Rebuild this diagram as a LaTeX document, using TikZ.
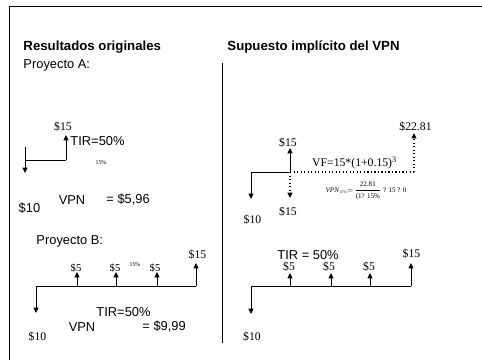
\documentclass[tikz,border=0pt]{standalone}
\usepackage{amsmath}
\usepackage{fontspec}
\setmainfont{Liberation Serif}
\setsansfont{Liberation Sans}
\usetikzlibrary{arrows.meta}

\begin{document}
\begin{tikzpicture}[
			x=0.03cm, y=-0.03cm,
			>={Triangle[width=4.2pt,length=4.6pt]},
			line width=0.8pt,
			txt/.style={font=\sffamily\fontsize{11}{13}\selectfont, inner sep=0pt},
			title/.style={font=\sffamily\bfseries\fontsize{11.3}{13}\selectfont, inner sep=0pt, anchor=base west},
			amt/.style={font=\fontsize{10}{12}\selectfont, inner sep=0pt},
			small amt/.style={font=\fontsize{9}{10}\selectfont, inner sep=0pt},
			rate/.style={font=\fontsize{5}{6}\selectfont, inner sep=0pt},
			dots/.style={dotted, line width=1pt}
			]
			\useasboundingbox (0,0) rectangle (482,360);
			\draw (482,6) -- (9,6) -- (9,360);
			
			% headings
			\node[title] (ttlorig) at (23,50.5) {Resultados originales};
			\node[title] (ttlimpl) at (227,50.5) {Supuesto implícito del VPN};
			\node[txt, anchor=base west] (proja) at (23,68) {Proyecto A:};
			\coordinate (divtop) at (222,63);
			\coordinate (divbot) at (222,343);
			\draw (divtop) -- (divbot);
			
			% project A, original
			\node[amt] (a15) at (63,127) {\$15};
			\node[txt, anchor=west] (atir) at (70,141) {TIR=50\%};
			\node[rate] (arate) at (101,163) {15\%};
			\node[txt] (avpn) at (72,200) {VPN};
			\node[txt, anchor=west] (aval) at (106,200) {= \$5,96};
			\node[txt] (a10) at (29.5,208) {\$10};
			\coordinate (a0top) at (25,147);
			\coordinate (a0) at (25,160);
			\coordinate (a1) at (66,160);
			\coordinate (a0tip) at (25,173);
			\coordinate (a1tip) at (66,135);
			\draw[->] (a0top) -- (a0tip);
			\draw (a0) -- (a1);
			\draw[->] (a1) -- (a1tip);
			
			% project B, original
			\node[txt, anchor=west] (projb) at (36,241) {Proyecto B:};
			\coordinate (b0) at (36,286);
			\coordinate (b1) at (77,286);
			\coordinate (b2) at (116,286);
			\coordinate (b3) at (157,286);
			\coordinate (b4) at (196,286);
			\coordinate (b0tip) at (36,313);
			\coordinate (b1tip) at (77,272);
			\coordinate (b2tip) at (116,272);
			\coordinate (b3tip) at (157,272);
			\coordinate (b4tip) at (196,263);
			\draw (b0) -- (b4);
			\draw[->] (b0) -- (b0tip);
			\draw[->] (b1) -- (b1tip);
			\draw[->] (b2) -- (b2tip);
			\draw[->] (b3) -- (b3tip);
			\draw[->] (b4) -- (b4tip);
			\node[small amt] (b5a) at (76,268) {\$5};
			\node[small amt] (b5b) at (115,268) {\$5};
			\node[small amt] (b5c) at (155,268) {\$5};
			\node[rate] (brate) at (135,265) {15\%};
			\node[amt] (b15) at (197.5,255) {\$15};
			\node[amt] (b10) at (37.5,337) {\$10};
			\node[txt, anchor=west] (btir) at (96,312) {TIR=50\%};
			\node[txt] (bvpn) at (82,327) {VPN};
			\node[txt, anchor=west] (bval) at (142,327) {= \$9,99};
			
			% project A, reinvested
			\coordinate (c0) at (251,172);
			\coordinate (c1) at (290,172);
			\coordinate (c3) at (414,172);
			\coordinate (c0tip) at (251,199);
			\coordinate (c1up) at (290,148);
			\coordinate (c1dn) at (290,198);
			\coordinate (c3tip) at (414,133);
			\draw (c0) -- (c1);
			\draw[dots] (c1) -- (c3);
			\draw[->] (c0) -- (c0tip);
			\draw[->] (c1) -- (c1up);
			\draw[->, dots] (c1) -- (c1dn);
			\draw[->, dots] (c3) -- (c3tip);
			\node[amt] (c2281) at (415.5,127) {\$22.81};
			\node[amt] (c15up) at (288,143) {\$15};
			\node[amt] (cvf) at (354.5,163) {VF=15*(1+0.15)\textsuperscript{3}};
			\node[font=\fontsize{6}{7}\selectfont, inner sep=0pt] (cform) at (366,191)
				{\textit{VPN}\raisebox{-0.4ex}{\fontsize{3.5}{4}\selectfont 15\%}$=\!\dfrac{\text{22.81}}{\text{(1? 15\%}}$ ? 15 ? 0};
			\node[amt] (c15dn) at (288,212) {\$15};
			\node[amt] (c10) at (252.5,220) {\$10};
			
			% project B, reinvested
			\node[txt, anchor=west] (dtir) at (277,255) {TIR = 50\%};
			\coordinate (d0) at (251,286);
			\coordinate (d1) at (290,286);
			\coordinate (d2) at (331,286);
			\coordinate (d3) at (370,286);
			\coordinate (d4) at (411,286);
			\coordinate (d0tip) at (251,314);
			\coordinate (d1tip) at (290,273);
			\coordinate (d2tip) at (331,273);
			\coordinate (d3tip) at (370,273);
			\coordinate (d4tip) at (411,263);
			\draw (d0) -- (d4);
			\draw[->] (d0) -- (d0tip);
			\draw[->] (d1) -- (d1tip);
			\draw[->] (d2) -- (d2tip);
			\draw[->] (d3) -- (d3tip);
			\draw[->] (d4) -- (d4tip);
			\node[amt] (d5a) at (289,267) {\$5};
			\node[amt] (d5b) at (329,267) {\$5};
			\node[amt] (d5c) at (369,267) {\$5};
			\node[amt] (d15) at (411.5,254) {\$15};
			\node[amt] (d10) at (252,337) {\$10};
		\end{tikzpicture}
\end{document}
